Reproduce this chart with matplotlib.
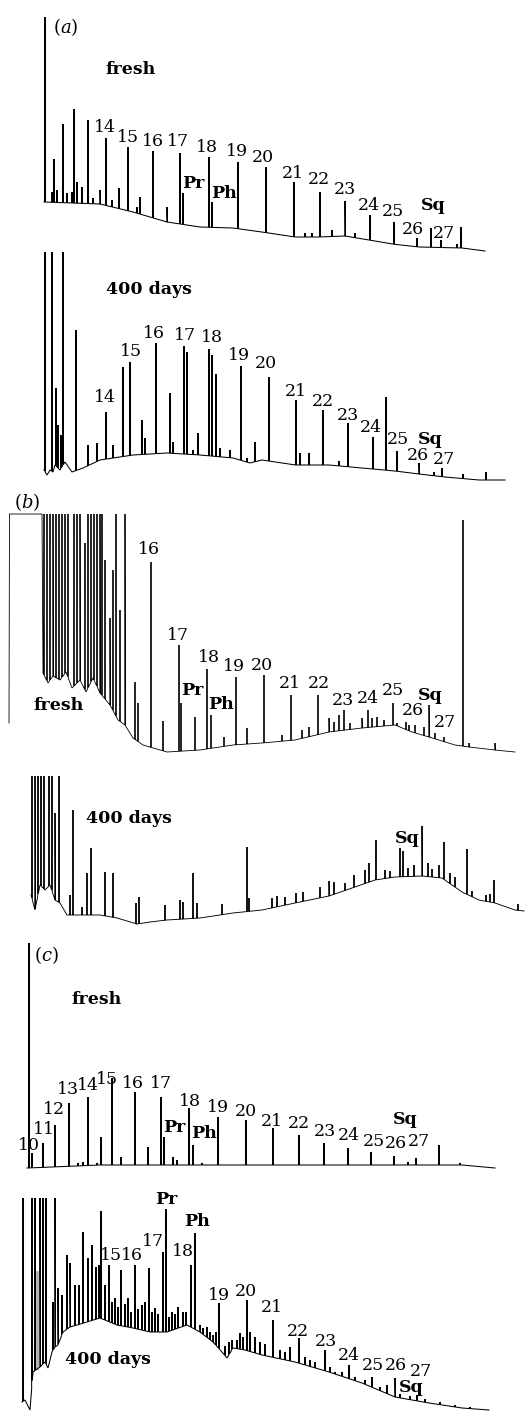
import numpy as np
import matplotlib
matplotlib.use("Agg")
import matplotlib.pyplot as plt

plt.rcParams['mathtext.fontset'] = 'dejavuserif'

# ---------------- panel (a) fresh ----------------
a1_base_x = [44, 100, 133, 167, 200, 233, 262, 295, 319, 345, 369, 392, 419, 462, 485]
a1_base_y = [53, 51, 43, 33, 28, 27, 23, 18, 18, 19, 15, 11, 8, 7, 4]
a1_peak_x = [45, 52, 54, 57, 63, 67, 72, 74, 77, 82, 88, 93, 100, 106, 112, 119, 128, 137, 140, 153,
             167, 180, 183, 209, 212, 238, 266, 294, 305, 312, 320, 332, 345, 355, 370, 394, 417, 431,
             441, 457, 461]
a1_peak_h = [238, 63, 96, 65, 131, 62, 63, 146, 73, 68, 135, 57, 65, 117, 55, 67, 108, 48, 58, 104,
             48, 102, 62, 98, 53, 93, 88, 73, 22, 22, 63, 25, 54, 22, 40, 33, 17, 27,
             15, 11, 28]
a1_lab_text = ["fresh", "14", "15", "16", "17", "Pr", "18", "Ph", "19", "20", "21", "22", "23", "24",
               "25", "Sq", "26", "27"]
a1_lab_x = [131, 105, 128, 153, 178, 193, 207, 224, 237, 263, 293, 319, 345, 369, 393, 433, 413, 444]
a1_lab_y = [185, 127, 118, 114, 113, 72, 107, 61, 103, 97, 81, 75, 65, 50, 44, 50, 26, 21]

# ---------------- panel (a) 400 days ----------------
a2_base_x = [44, 47, 50, 53, 55, 60, 65, 72, 83, 100, 133, 167, 200, 233, 250, 262, 295, 329, 362,
             395, 419, 445, 479, 505]
a2_base_y = [15, 10, 15, 13, 20, 15, 23, 13, 17, 25, 30, 32, 30, 27, 22, 25, 20, 20, 17, 14, 11, 8, 5, 5]
a2_peak_x = [45, 52, 56, 58, 61, 63, 76, 88, 97, 106, 113, 123, 130, 142, 145, 156, 170, 173, 184, 187,
             193, 198, 209, 212, 216, 220, 230, 241, 247, 255, 269, 296, 300, 309, 323, 339, 348, 373,
             386, 397, 419, 434, 442, 463, 486]
a2_peak_h = [233, 233, 97, 60, 50, 233, 155, 40, 42, 73, 40, 118, 123, 65, 47, 142, 92, 43, 139, 133,
             35, 52, 136, 130, 111, 37, 35, 119, 27, 43, 108, 85, 32, 32, 75, 24, 62, 48,
             88, 34, 22, 13, 17, 11, 13]
a2_lab_text = ["400 days", "14", "15", "16", "17", "18", "19", "20", "21", "22", "23", "24", "25",
               "Sq", "26", "27"]
a2_lab_x = [149, 105, 131, 154, 185, 212, 239, 266, 296, 323, 348, 371, 398, 430, 418, 444]
a2_lab_y = [196, 88, 133, 151, 149, 147, 129, 121, 94, 83, 70, 58, 46, 46, 29, 26]

# ---------------- panel (b) fresh ----------------
b1_base_x = [9, 9.5, 42, 43, 48, 53, 60, 66, 72, 80, 86, 93, 100, 110, 118, 125, 133, 143, 167, 200,
             233, 262, 295, 329, 362, 395, 412, 429, 455, 469, 495, 515]
b1_base_y = [37, 246, 246, 87, 77, 84, 80, 88, 72, 80, 68, 82, 67, 55, 40, 35, 22, 15, 8, 10,
             15, 17, 20, 28, 32, 35, 28, 23, 15, 13, 10, 8]
b1_peak_x = [44, 47, 50, 53, 56, 59, 62, 65, 68, 74, 77, 80, 85, 88, 91, 94, 97, 100, 102,
             105, 110, 113, 116, 120, 125, 135, 138, 151, 163, 179, 181, 195,
             207, 211, 224, 236, 247, 264, 282, 291, 302, 309, 318, 329, 334, 339, 344, 350, 362,
             368, 372, 377, 384, 393, 397, 406, 409, 415, 424, 429, 435, 444, 463, 469, 495]
b1_peak_h = [246, 246, 246, 246, 246, 246, 246, 246, 246, 246, 246, 246, 217, 246, 246, 246, 246, 246,
             246, 200, 142, 190, 246, 150, 246, 78, 57, 198,
             39, 115, 57, 43, 91, 45, 23, 83, 32, 85, 25, 65, 30, 33, 65, 42, 38, 45, 50, 37, 42,
             50, 42, 43, 40, 57, 37, 38, 35, 35, 33, 55, 27, 23, 240, 17, 17]
b1_lab_text = ["16", "fresh", "17", "Pr", "18", "Ph", "19", "20", "21", "22", "23", "24", "25", "Sq",
               "26", "27"]
b1_lab_x = [149, 59, 178, 192, 209, 221, 234, 262, 290, 319, 343, 368, 393, 430, 413, 445]
b1_lab_y = [210, 54, 124, 69, 102, 55, 93, 94, 76, 76, 59, 61, 69, 64, 49, 37]

# ---------------- panel (b) 400 days ----------------
b2_base_x = [31, 35, 40, 45, 50, 55, 60, 67, 100, 117, 137, 150, 167, 200, 233, 262, 295, 329, 352,
             375, 395, 422, 442, 462, 479, 495, 515, 524]
b2_base_y = [30, 15, 40, 35, 40, 25, 22, 10, 10, 7, 1, 3, 5, 7, 12, 15, 22, 29, 37, 45, 48, 49, 47,
             33, 25, 22, 15, 14]
b2_peak_x = [32, 35, 38, 41, 44, 49, 52, 55, 59, 70, 73, 82, 87, 91, 105, 113, 136, 139, 165,
             180, 183, 193, 197, 222, 247, 249, 272, 277, 285, 296, 303, 320, 329, 334, 354, 365,
             369, 376, 400, 403, 414, 422, 432, 439, 444, 467, 494, 518,
             345, 385, 390, 408, 428, 450, 455, 472, 486, 490]
b2_peak_h = [149, 149, 149, 149, 149, 149, 149, 112, 149, 30, 115, 18, 52, 77, 53, 52, 22, 28, 20,
             25, 23, 52, 22, 21, 78, 27, 27, 29, 28, 32, 33, 38, 44, 43, 50, 55,
             62, 85, 77, 74, 60, 99, 56, 60, 83, 76, 45, 21,
             42, 55, 54, 57, 62, 52, 48, 34, 30, 31]
b2_lab_text = ["400 days", "Sq"]
b2_lab_x = [129, 407]
b2_lab_y = [107, 87]

# ---------------- panel (c) fresh ----------------
c1_base_x = [27, 28, 100, 200, 262, 400, 462, 495]
c1_base_y = [7, 7, 10, 10, 10, 10, 10, 7]
c1_peak_x = [29, 32, 43, 55, 69, 78, 83, 88, 97, 101, 112, 121, 135, 148, 161, 164, 173, 177, 189, 193,
             202, 218, 246, 273, 299, 324, 348, 371, 394, 408, 416, 439, 460]
c1_peak_h = [232, 22, 32, 50, 72, 12, 13, 78, 12, 38, 97, 18, 83, 28, 78, 38, 18, 15, 67, 30,
             12, 58, 55, 47, 40, 32, 27, 23, 19, 13, 17, 30, 12]
c1_lab_text = ["fresh", "10", "11", "12", "13", "14", "15", "16", "17", "Pr", "18", "Ph", "19", "20",
               "21", "22", "23", "24", "25", "26", "27", "Sq"]
c1_lab_x = [97, 29, 44, 54, 68, 88, 107, 133, 161, 174, 190, 204, 218, 246, 272, 299, 325, 349, 374,
            396, 419, 405]
c1_lab_y = [175, 29, 46, 65, 85, 89, 95, 92, 91, 48, 74, 41, 68, 64, 54, 51, 44, 39, 34, 31, 33, 56]

# ---------------- panel (c) 400 days ----------------
c2_base_x = [22, 25, 30, 33, 40, 45, 48, 52, 55, 58, 63, 70, 77, 100, 117, 133, 150, 167, 187, 200,
             213, 222, 227, 233, 245, 262, 295, 329, 362, 395, 429, 462, 489]
c2_base_y = [10, 12, 2, 40, 45, 50, 44, 60, 65, 67, 80, 85, 87, 94, 87, 84, 80, 80, 87, 80, 70, 60,
             54, 64, 62, 57, 50, 40, 29, 15, 9, 4, 2]
c2_peak_x = [23, 32, 35, 40, 43, 46, 53, 55, 58, 62, 67, 70, 75, 79, 83, 88, 92, 96, 99, 101,
             105, 109, 115, 121, 128, 135, 142, 149, 155, 163, 166, 172, 178, 183, 191, 195, 200,
             207, 213, 219, 232, 240, 247, 250, 255, 273, 280, 290, 299, 310, 325, 335, 349, 372,
             387, 395, 417,
             112, 118, 125, 131, 138, 145, 152, 158, 169, 175, 186, 203, 210, 216, 225, 229, 237,
             243, 260, 265, 285, 305, 315, 330, 342, 355, 365, 380, 400, 410, 425, 440, 455, 470]
c2_peak_h = [214, 214, 214, 214, 214, 214, 110, 214, 124, 117, 157, 149, 127, 127, 180, 154, 167, 145,
             147, 201, 127, 147, 114, 142, 114, 147, 107, 144, 104, 160, 203, 100, 105, 100, 147,
             179, 87, 85, 77, 109, 72, 79, 112, 80, 75, 92, 62, 65, 74, 52, 62, 40, 47, 35, 27,
             34, 17,
             110, 105, 108, 100, 103, 110, 100, 98, 95, 98, 100, 84, 80, 80, 66, 70, 72,
             75, 70, 68, 60, 55, 50, 45, 40, 35, 32, 25, 18, 16, 13, 10, 7, 5]
c2_lab_text = ["Pr", "Ph", "15", "16", "17", "18", "19", "20", "21", "22", "23", "24", "25", "26",
               "27", "Sq", "400 days"]
c2_lab_x = [166, 197, 111, 132, 153, 183, 219, 246, 272, 298, 326, 349, 373, 396, 421, 411, 108]
c2_lab_y = [213, 191, 156, 156, 170, 160, 116, 120, 104, 81, 71, 57, 46, 46, 41, 24, 52]

W, H = 525, 1412
fig = plt.figure(figsize=(W / 100, H / 100), dpi=100)


def make_ax(top, bottom):
    ax = fig.add_axes([0, 1 - bottom / H, 1, (bottom - top) / H])
    ax.set_xlim(0, W)
    ax.set_ylim(0, bottom - top)
    ax.axis('off')
    ax.patch.set_alpha(0)
    return ax


def draw_trace(ax, bx, by, px, ph, w=0.35, lw=0.75):
    bx = np.asarray(bx, float)
    by = np.asarray(by, float)
    pts = [(x, float(np.interp(x, bx, by))) for x in bx]
    for p, h in zip(px, ph):
        b = float(np.interp(p, bx, by))
        pts.append((p - w, float(np.interp(p - w, bx, by))))
        pts.append((p, max(h, b)))
        pts.append((p + w, float(np.interp(p + w, bx, by))))
    pts.sort(key=lambda t: t[0])
    xs = [t[0] for t in pts]
    ys = [t[1] for t in pts]
    ax.plot(xs, ys, color='black', lw=lw, solid_joinstyle='miter', clip_on=False)


def draw_labels(ax, texts, xs, ys):
    for t, x, y in zip(texts, xs, ys):
        bold = not t.isdigit()
        ax.text(x, y, t, ha='center', va='center', fontsize=12.5, family='DejaVu Serif',
                fontweight='bold' if bold else 'normal', color='black')


# (a) fresh
ax = make_ax(0, 255)
draw_trace(ax, a1_base_x, a1_base_y, a1_peak_x, a1_peak_h)
draw_labels(ax, a1_lab_text, a1_lab_x, a1_lab_y)
ax.text(66, 228, r"$(a)$", ha='center', va='center', fontsize=13)

# (a) 400 days
ax = make_ax(240, 485)
draw_trace(ax, a2_base_x, a2_base_y, a2_peak_x, a2_peak_h)
draw_labels(ax, a2_lab_text, a2_lab_x, a2_lab_y)

# (b) fresh
ax = make_ax(485, 760)
draw_trace(ax, b1_base_x, b1_base_y, b1_peak_x, b1_peak_h, w=0.25, lw=0.6)
draw_labels(ax, b1_lab_text, b1_lab_x, b1_lab_y)
ax.text(27, 258, r"$(b)$", ha='center', va='center', fontsize=13)

# (b) 400 days
ax = make_ax(760, 925)
draw_trace(ax, b2_base_x, b2_base_y, b2_peak_x, b2_peak_h, w=0.25, lw=0.65)
draw_labels(ax, b2_lab_text, b2_lab_x, b2_lab_y)

# (c) fresh
ax = make_ax(925, 1175)
draw_trace(ax, c1_base_x, c1_base_y, c1_peak_x, c1_peak_h)
draw_labels(ax, c1_lab_text, c1_lab_x, c1_lab_y)
ax.text(46, 220, r"$(c)$", ha='center', va='center', fontsize=13)

# (c) 400 days
ax = make_ax(1175, 1412)
ax.plot([36.5, 36.5], [44, 140], color='#b0b0b0', lw=2.0, clip_on=False)
draw_trace(ax, c2_base_x, c2_base_y, c2_peak_x, c2_peak_h)
draw_labels(ax, c2_lab_text, c2_lab_x, c2_lab_y)

fig.savefig("out.png", dpi=100, facecolor='white')
